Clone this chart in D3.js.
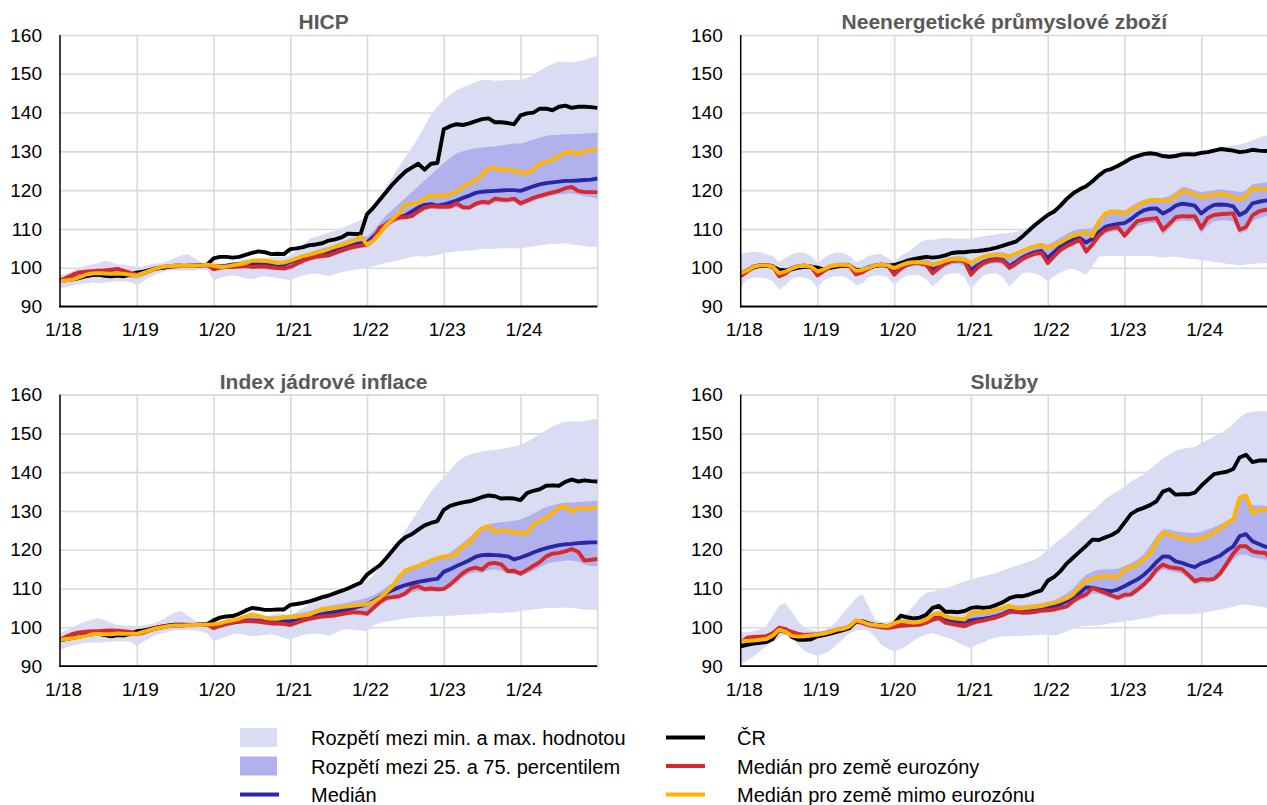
<!DOCTYPE html>
<html lang="cs">
<head>
<meta charset="utf-8">
<title>Cenové hladiny v zemích EU</title>
<script src="https://cdn.jsdelivr.net/npm/d3@7/dist/d3.min.js"></script>
<style>
  html, body { margin: 0; padding: 0; background: #fff; overflow: hidden; }
  svg { display: block; font-family: 'Liberation Sans', Arial, sans-serif; }
</style>
</head>
<body>
<svg id="chart" width="1267" height="805"></svg>
<script>
/* global d3 */

// Popisky os (měsíční data 1/18 až 1/25)
const X_TICKS = ['1/18', '1/19', '1/20', '1/21', '1/22', '1/23', '1/24']
const Y_TICKS = [90, 100, 110, 120, 130, 140, 150, 160]

// HICP
const hicpMin = [
  94.5, 95.0, 95.5, 95.8, 96.0, 96.2, 96.0, 96.2, 96.4, 96.5, 96.5, 96.3,
  95.4, 96.5, 97.5, 98.3, 98.8, 99.2, 99.3, 99.2, 99.3, 99.3, 99.5, 99.4,
  96.8, 97.3, 97.8, 98.0, 97.8, 97.3, 97.0, 97.5, 97.8, 97.6, 97.3, 97.0,
  96.8, 97.5, 98.0, 98.4, 98.6, 98.2, 97.8, 98.3, 98.8, 99.2, 99.5, 99.6,
  100.0, 100.4, 100.8, 101.3, 101.6, 102.0, 102.4, 102.8, 103.0, 102.8, 103.0, 103.3,
  103.7, 104.0, 104.2, 104.3, 104.4, 104.6, 104.8, 104.8, 104.9, 105.0, 105.0, 105.0,
  105.0, 105.3, 105.5, 105.8, 106.0, 106.2, 106.2, 106.3, 106.0, 105.8, 105.6, 105.4,
  105.4]
const hicpMax = [
  98.0, 98.5, 99.2, 100.0, 100.5, 100.8, 101.2, 101.8, 101.5, 100.8, 100.8, 100.5,
  100.2, 100.3, 100.8, 101.0, 101.2, 101.8, 102.6, 103.2, 103.5, 102.5, 101.5, 101.2,
  101.0, 101.0, 101.2, 101.5, 101.8, 102.2, 102.4, 102.5, 102.6, 102.7, 102.8, 102.9,
  103.0, 104.5, 106.0, 107.5, 108.0, 108.5, 109.0, 109.5, 110.2, 110.8, 111.5, 112.3,
  113.2, 115.5, 118.0, 121.0, 123.5, 126.0, 128.5, 131.0, 133.5, 136.5, 139.5, 141.5,
  143.2, 144.5, 145.8, 146.5, 147.1, 147.8, 148.4, 148.4, 148.2, 148.3, 148.4, 148.4,
  148.4, 149.0, 149.7, 150.8, 151.8, 152.5, 153.1, 153.1, 153.0, 153.2, 153.6, 154.2,
  154.6]
const hicpP25 = [
  96.0, 96.3, 96.8, 97.2, 97.5, 97.7, 97.6, 97.6, 97.6, 97.5, 97.5, 97.4,
  97.2, 97.8, 98.5, 99.2, 99.6, 99.8, 99.9, 99.9, 99.9, 99.9, 100.0, 100.1,
  99.5, 99.6, 99.8, 100.0, 100.0, 99.8, 99.8, 99.8, 99.7, 99.5, 99.4, 99.4,
  99.6, 100.3, 101.2, 101.8, 102.2, 102.5, 102.7, 103.2, 103.8, 104.4, 104.8, 105.0,
  105.2, 106.3, 108.5, 110.0, 111.5, 112.2, 112.5, 113.0, 114.0, 114.8, 115.2, 115.0,
  115.0, 115.2, 115.5, 115.0, 115.0, 115.8, 116.2, 116.0, 116.8, 116.8, 116.8, 117.0,
  115.8, 116.5, 117.2, 117.8, 118.2, 118.6, 118.9, 119.1, 119.2, 118.8, 118.5, 118.2,
  117.8]
const hicpP75 = [
  97.5, 98.0, 98.5, 99.0, 99.4, 99.6, 99.8, 99.8, 99.8, 99.7, 99.4, 99.0,
  98.8, 99.2, 99.7, 100.2, 100.5, 100.8, 101.0, 101.0, 101.0, 101.0, 101.1, 101.2,
  100.8, 100.9, 101.0, 101.3, 101.5, 101.8, 102.0, 102.0, 102.0, 101.9, 101.8, 101.9,
  102.3, 102.9, 103.5, 104.0, 104.5, 105.0, 105.5, 106.0, 106.6, 107.2, 107.8, 108.3,
  108.0, 109.5, 111.5, 113.5, 115.0, 116.5, 118.0, 119.5, 121.0, 122.5, 124.0, 125.5,
  127.0, 128.3, 129.5, 130.0, 130.5, 130.8, 131.0, 131.2, 131.3, 131.5, 131.8, 132.0,
  132.0, 132.5, 133.0, 133.5, 134.0, 134.2, 134.3, 134.4, 134.5, 134.5, 134.6, 134.7,
  134.8]
const hicpMed = [
  96.8, 96.9, 97.2, 97.6, 98.2, 98.4, 98.5, 98.5, 98.5, 98.4, 98.3, 98.2,
  98.3, 98.8, 99.3, 99.8, 100.0, 100.2, 100.4, 100.4, 100.5, 100.5, 100.6, 100.7,
  100.3, 100.3, 100.5, 100.8, 101.0, 101.0, 101.2, 101.0, 100.8, 100.6, 100.6, 100.8,
  101.5, 102.0, 102.6, 103.0, 103.3, 103.6, 104.0, 104.5, 105.0, 105.5, 106.0, 106.3,
  106.5, 108.0, 109.8, 111.3, 112.5, 113.0, 113.5, 114.5, 115.5, 116.2, 116.4, 116.0,
  116.3, 116.8, 117.3, 118.0, 118.6, 119.3, 119.6, 119.7, 119.8, 119.9, 120.0, 120.0,
  119.8, 120.4, 121.0, 121.5, 121.8, 122.0, 122.2, 122.4, 122.4, 122.5, 122.6, 122.7,
  123.0]
const hicpCz = [
  96.6, 96.8, 97.0, 97.3, 97.8, 98.1, 98.2, 97.9, 97.8, 98.0, 97.8, 98.3,
  98.7, 99.0, 99.4, 99.8, 100.0, 100.3, 100.5, 100.5, 100.4, 100.5, 100.6, 100.8,
  102.4, 102.8, 102.8, 102.6, 102.8, 103.3, 103.8, 104.2, 104.0, 103.5, 103.6, 103.5,
  104.8, 105.0, 105.3, 105.8, 106.0, 106.3, 107.0, 107.3, 107.8, 108.8, 108.7, 108.7,
  113.8, 115.5, 117.5, 119.5, 121.5, 123.2, 124.8, 125.8, 126.8, 125.3, 126.8, 127.0,
  135.7, 136.5, 137.0, 136.8, 137.2, 137.8, 138.3, 138.5, 137.5, 137.5, 137.3, 137.0,
  139.3, 139.8, 140.0, 141.0, 141.0, 140.6, 141.5, 141.8, 141.2, 141.5, 141.5, 141.4,
  141.2]
const hicpEa = [
  96.6, 97.4, 98.2, 98.8, 99.0, 99.1, 99.2, 99.3, 99.5, 99.7, 99.2, 98.7,
  98.2, 98.6, 99.2, 99.8, 100.2, 100.4, 100.3, 100.4, 100.5, 100.5, 100.6, 100.8,
  99.6, 100.0, 100.2, 100.2, 100.3, 100.4, 100.2, 100.3, 100.3, 100.1, 99.9, 99.8,
  100.2, 101.0, 101.8, 102.4, 102.8, 103.0, 103.2, 103.8, 104.4, 105.0, 105.4, 105.7,
  106.0, 107.2, 110.3, 111.2, 112.3, 113.0, 113.0, 113.3, 114.5, 115.5, 115.9, 115.8,
  115.7, 115.8, 116.6, 115.6, 115.5, 116.5, 117.0, 116.8, 117.8, 117.6, 117.5, 117.8,
  116.6, 117.3, 118.0, 118.5, 119.0, 119.4, 119.8, 120.5, 120.8, 119.8, 119.5, 119.5,
  119.5]
const hicpNonEa = [
  96.5, 96.7, 97.0, 97.5, 98.2, 98.5, 98.6, 98.5, 98.4, 98.5, 98.4, 98.2,
  98.0, 98.6, 99.2, 99.8, 100.2, 100.4, 100.5, 100.5, 100.5, 100.5, 100.6, 100.8,
  100.5, 100.2, 100.3, 100.6, 100.9, 101.2, 101.8, 101.8, 101.8, 101.6, 101.2, 101.3,
  101.8, 102.4, 103.0, 103.4, 103.8, 104.2, 104.8, 105.4, 105.8, 106.4, 107.0, 108.0,
  106.0, 107.0, 108.8, 111.0, 112.5, 114.0, 116.2, 116.4, 116.8, 117.8, 118.6, 118.5,
  118.6, 119.0, 119.5, 120.8, 121.8, 122.5, 124.0, 125.5, 125.8, 125.2, 125.4, 125.0,
  124.6, 124.4, 125.2, 126.8, 127.3, 127.8, 128.8, 129.7, 129.8, 129.3, 130.1, 130.2,
  130.4]

// Neenergetické průmyslové zboží
const goodsMin = [
  95.0, 97.0, 97.5, 97.5, 97.3, 96.5, 94.3, 95.5, 97.3, 97.6, 97.5, 96.8,
  94.8, 96.8, 97.6, 97.8, 97.8, 97.0, 95.5, 96.0, 97.5, 98.0, 98.0, 97.5,
  95.5, 97.0, 98.0, 98.2, 98.0, 97.0, 95.2, 96.5, 98.2, 98.6, 98.6, 97.5,
  94.5, 96.5, 98.0, 98.5, 98.6, 97.5, 95.0, 96.8, 98.5, 98.8, 98.6, 97.8,
  96.5, 97.8, 98.8, 99.5, 99.8, 99.0, 98.2, 100.5, 102.8, 103.0, 103.0, 103.0,
  103.0, 103.0, 103.0, 103.0, 103.0, 102.8, 102.6, 102.8, 102.8, 102.6, 102.4, 102.2,
  102.0, 101.8, 101.5, 101.3, 101.0, 100.8, 100.6, 100.8, 101.0, 101.1, 101.2, 101.2,
  101.2]
const goodsMax = [
  103.5, 104.0, 104.2, 104.0, 103.5, 103.0, 101.5, 102.5, 103.5, 104.0, 103.8, 103.0,
  101.2, 102.5, 103.5, 104.0, 103.8, 103.0, 101.5, 102.0, 103.0, 103.5, 103.5, 102.5,
  101.5, 103.0, 104.0, 105.0, 106.5, 107.2, 107.2, 107.5, 107.6, 107.6, 107.5, 107.5,
  107.5, 107.8, 108.2, 108.4, 108.6, 108.8, 108.9, 109.2, 109.8, 110.5, 111.3, 112.5,
  113.8, 115.0, 116.5, 118.0, 119.3, 120.5, 121.5, 123.0, 124.3, 125.5, 126.0, 126.8,
  127.5, 128.3, 128.8, 129.3, 129.5, 129.5, 129.3, 129.3, 129.5, 129.7, 129.9, 130.0,
  130.2, 130.4, 130.6, 131.0, 131.2, 131.5, 131.8, 132.2, 132.8, 133.5, 134.0, 134.4,
  134.6]
const goodsP25 = [
  97.5, 98.5, 99.6, 100.0, 100.0, 99.6, 97.3, 97.8, 99.2, 99.8, 100.0, 99.7,
  97.5, 98.6, 99.6, 100.0, 100.1, 99.8, 97.8, 98.3, 99.3, 100.0, 100.2, 100.0,
  97.5, 99.0, 100.0, 100.4, 100.4, 100.0, 97.8, 99.0, 100.2, 100.8, 101.0, 100.6,
  97.5, 99.2, 100.4, 101.0, 101.2, 100.8, 99.2, 100.2, 101.5, 102.4, 103.0, 103.0,
  100.5, 102.2, 104.0, 105.0, 105.8, 106.5, 103.5, 105.2, 107.5, 108.8, 109.3, 109.5,
  107.5, 109.0, 110.6, 111.2, 111.5, 111.5, 108.5, 110.0, 111.8, 112.2, 112.0, 112.0,
  108.9, 110.8, 112.0, 112.2, 112.2, 112.0, 108.8, 109.5, 112.0, 112.8, 113.3, 113.6,
  111.0]
const goodsP75 = [
  99.2, 100.0, 100.8, 101.2, 101.2, 101.0, 99.5, 99.8, 100.6, 101.0, 101.0, 100.8,
  99.6, 100.2, 100.9, 101.3, 101.4, 101.2, 100.0, 100.2, 100.8, 101.2, 101.4, 101.3,
  100.5, 101.0, 101.6, 102.0, 102.2, 102.2, 101.5, 101.8, 102.4, 102.8, 103.0, 102.8,
  101.8, 102.6, 103.3, 103.8, 104.0, 104.0, 103.5, 104.0, 104.8, 105.5, 106.0, 106.3,
  106.0, 106.8, 107.8, 108.8, 109.6, 110.0, 110.0, 110.2, 112.5, 114.5, 115.0, 115.0,
  114.8, 115.8, 116.8, 117.5, 117.9, 118.0, 118.0, 118.5, 119.5, 120.8, 120.6, 120.0,
  119.5, 119.8, 120.0, 120.2, 120.0, 119.8, 119.5, 120.0, 121.5, 121.8, 122.0, 122.2,
  122.0]
const goodsMed = [
  98.2, 99.3, 100.3, 100.6, 100.6, 100.3, 98.5, 98.8, 99.8, 100.4, 100.5, 100.3,
  98.5, 99.4, 100.3, 100.6, 100.7, 100.5, 98.8, 99.0, 99.9, 100.5, 100.8, 100.6,
  98.8, 100.0, 100.8, 101.2, 101.2, 100.9, 99.5, 100.2, 101.2, 101.8, 102.0, 101.8,
  99.4, 100.6, 101.5, 102.0, 102.2, 102.0, 100.4, 101.4, 102.6, 103.4, 104.0, 104.3,
  102.5, 104.0, 105.5, 106.5, 107.2, 107.6, 106.5, 107.5, 109.2, 110.5, 111.0, 111.3,
  111.5, 112.5, 113.8, 114.8, 115.2, 115.3, 114.0, 114.8, 116.0, 116.5, 116.3, 116.0,
  114.0, 115.3, 116.2, 116.3, 116.2, 115.8, 113.6, 114.5, 116.6, 117.0, 117.3, 117.5,
  116.0]
const goodsCz = [
  98.6, 99.2, 100.0, 100.5, 100.5, 100.3, 99.5, 99.3, 99.6, 100.0, 100.2, 100.3,
  100.0, 99.5, 100.0, 100.3, 100.5, 100.5, 99.5, 99.3, 100.0, 100.5, 100.7, 100.5,
  100.7, 101.2, 101.8, 102.2, 102.5, 102.8, 102.6, 102.8, 103.2, 103.8, 104.0, 104.0,
  104.2, 104.3, 104.5, 104.8, 105.2, 105.7, 106.2, 106.7, 108.0, 109.5, 111.0, 112.3,
  113.6, 114.5, 116.0, 117.8, 119.2, 120.2, 121.0, 122.3, 123.8, 125.0, 125.5, 126.3,
  127.2, 128.2, 128.8, 129.3, 129.5, 129.3, 128.8, 128.6, 128.8, 129.2, 129.3, 129.2,
  129.6, 129.8, 130.2, 130.6, 130.4, 130.2, 129.8, 130.0, 130.4, 130.2, 130.1, 130.2,
  130.3]
const goodsEa = [
  97.8, 99.0, 100.2, 100.7, 100.7, 100.4, 97.8, 98.5, 99.8, 100.4, 100.5, 100.3,
  98.0, 99.2, 100.2, 100.6, 100.7, 100.5, 98.3, 98.8, 99.8, 100.5, 100.8, 100.6,
  98.2, 99.8, 100.8, 101.2, 101.2, 100.8, 98.6, 100.0, 101.2, 101.8, 102.0, 101.6,
  98.2, 100.0, 101.2, 101.8, 102.0, 101.8, 100.0, 101.0, 102.2, 103.0, 103.6, 103.9,
  101.2, 103.0, 104.6, 105.6, 106.4, 107.2, 104.2, 106.0, 108.3, 109.7, 110.2, 110.4,
  108.3, 110.2, 112.0, 112.4, 112.6, 112.8, 109.8, 111.3, 113.0, 113.3, 113.2, 113.3,
  110.2, 112.8, 113.6, 113.8, 113.9, 114.0, 109.8, 110.5, 113.5, 114.5, 114.9, 115.2,
  112.5]
const goodsNonEa = [
  98.6, 99.3, 100.2, 100.6, 100.6, 100.3, 98.6, 99.0, 99.8, 100.4, 100.5, 100.3,
  99.0, 99.6, 100.4, 100.7, 100.8, 100.6, 99.2, 99.4, 100.0, 100.6, 100.8, 100.6,
  99.9, 100.6, 101.2, 101.4, 101.4, 101.2, 100.8, 101.2, 101.8, 102.2, 102.2, 102.0,
  101.2, 102.2, 102.9, 103.2, 103.3, 103.2, 103.0, 103.6, 104.3, 105.0, 105.6, 105.9,
  105.0, 105.8, 106.5, 107.5, 108.3, 108.8, 108.9, 108.2, 112.0, 114.0, 114.5, 114.3,
  114.0, 115.0, 115.8, 116.8, 117.4, 117.5, 117.3, 117.5, 118.5, 119.8, 119.5, 118.8,
  118.3, 118.5, 118.8, 119.0, 118.8, 118.2, 117.5, 118.5, 120.5, 120.3, 120.2, 120.5,
  120.0]

// Index jádrové inflace
const coreMin = [
  94.3, 94.8, 95.3, 95.7, 96.0, 96.1, 96.0, 96.2, 96.3, 96.5, 96.4, 96.2,
  95.2, 96.2, 97.2, 98.0, 98.5, 98.9, 99.2, 99.3, 99.3, 99.2, 99.0, 98.5,
  96.4, 97.0, 97.6, 98.2, 98.4, 98.0, 97.6, 97.8, 98.0, 98.2, 97.8, 97.3,
  96.9, 97.5, 98.1, 98.3, 98.4, 98.2, 97.8, 98.5, 99.3, 99.5, 99.4, 99.2,
  99.0, 100.5, 101.2, 101.5, 101.7, 102.0, 102.3, 102.5, 102.6, 102.7, 102.8, 102.9,
  102.9, 103.0, 103.1, 103.2, 103.3, 103.4, 103.5, 103.6, 103.7, 103.7, 103.8, 103.9,
  104.2, 104.4, 104.6, 104.8, 105.0, 105.0, 105.0, 105.1, 105.0, 104.8, 104.6, 104.5,
  104.5]
const coreMax = [
  98.5, 99.3, 100.0, 100.8, 101.5, 102.0, 102.4, 101.8, 101.2, 100.6, 100.5, 100.4,
  100.3, 100.5, 100.8, 101.2, 102.0, 103.0, 103.8, 104.2, 103.0, 101.8, 101.3, 101.2,
  101.1, 101.3, 101.5, 101.6, 101.8, 102.0, 102.2, 102.5, 102.8, 103.2, 103.6, 103.4,
  103.0, 104.0, 105.0, 106.0, 106.8, 107.5, 108.0, 108.6, 109.2, 109.8, 110.5, 111.2,
  111.8, 113.5, 115.5, 117.8, 120.0, 122.5, 125.0, 127.5, 130.0, 132.5, 135.0, 137.0,
  138.5, 140.5, 142.5, 143.8, 144.5, 145.0, 145.3, 145.6, 145.8, 146.0, 146.3, 146.6,
  147.0, 147.8, 148.8, 149.8, 150.8, 151.8, 152.5, 153.0, 153.1, 153.0, 153.2, 153.5,
  153.8]
const coreP25 = [
  96.3, 96.6, 97.0, 97.4, 97.7, 97.8, 97.8, 97.8, 97.8, 97.8, 97.7, 97.7,
  97.7, 98.1, 98.7, 99.2, 99.5, 99.8, 100.0, 100.0, 100.0, 100.0, 100.1, 100.1,
  99.4, 99.8, 100.2, 100.6, 100.9, 101.0, 101.0, 100.9, 100.7, 100.5, 100.4, 100.3,
  100.2, 100.7, 101.3, 101.7, 102.0, 102.3, 102.4, 102.6, 102.9, 103.2, 103.4, 103.3,
  103.2, 104.3, 105.6, 106.7, 107.2, 107.5, 108.0, 109.0, 109.4, 109.2, 109.3, 109.2,
  109.3, 110.4, 111.6, 113.0, 113.8, 114.2, 114.0, 114.8, 115.0, 114.6, 113.8, 113.6,
  113.4, 113.9, 114.6, 115.5, 116.3, 116.8, 117.0, 117.2, 117.2, 117.0, 116.2, 115.8,
  115.8]
const coreP75 = [
  97.5, 97.8, 98.2, 98.6, 98.9, 99.1, 99.2, 99.2, 99.3, 99.3, 99.2, 99.1,
  99.0, 99.3, 99.8, 100.2, 100.6, 100.9, 101.1, 101.2, 101.2, 101.2, 101.3, 101.3,
  101.2, 101.5, 101.9, 102.3, 102.7, 103.1, 103.4, 103.3, 103.0, 102.8, 102.9, 103.1,
  103.3, 103.5, 103.8, 104.2, 104.7, 105.2, 105.5, 105.8, 106.1, 106.4, 106.8, 107.2,
  107.6, 108.2, 109.2, 110.3, 111.5, 113.0, 114.6, 115.6, 116.4, 117.0, 117.7, 118.3,
  118.5, 119.3, 120.5, 121.8, 123.2, 124.8, 126.0, 126.6, 126.9, 127.1, 127.3, 127.5,
  127.8, 128.5, 129.3, 130.2, 131.0, 131.5, 131.9, 132.1, 132.2, 132.3, 132.4, 132.5,
  132.6]
const coreMed = [
  96.8, 97.0, 97.3, 97.6, 98.0, 98.2, 98.3, 98.3, 98.3, 98.4, 98.3, 98.3,
  98.4, 98.8, 99.3, 99.7, 100.0, 100.3, 100.5, 100.5, 100.6, 100.6, 100.7, 100.7,
  100.5, 100.6, 100.9, 101.2, 101.5, 101.8, 101.8, 101.7, 101.6, 101.5, 101.5, 101.5,
  101.6, 101.8, 102.2, 102.6, 103.0, 103.4, 103.7, 104.0, 104.3, 104.6, 105.0, 105.5,
  105.9, 106.8, 107.8, 108.8, 109.6, 110.3, 110.9, 111.3, 111.7, 112.0, 112.3, 112.5,
  114.3, 115.0, 115.8, 116.5, 117.3, 118.2, 118.6, 118.7, 118.6, 118.5, 118.3, 117.5,
  118.0, 118.6, 119.3, 119.9, 120.4, 120.8, 121.2, 121.4, 121.5, 121.7, 121.8, 121.9,
  121.9]
const coreCz = [
  96.8, 97.0, 97.3, 97.6, 98.0, 98.3, 98.3, 98.0, 97.7, 98.0, 97.9, 98.3,
  99.0, 99.2, 99.5, 99.9, 100.2, 100.5, 100.7, 100.7, 100.6, 100.6, 100.7, 100.8,
  101.8, 102.5, 102.8, 102.9, 103.5, 104.3, 105.0, 104.8, 104.5, 104.5, 104.6, 104.6,
  105.8, 106.0, 106.3, 106.7, 107.2, 107.8, 108.2, 108.8, 109.4, 110.0, 110.8, 111.5,
  113.6, 114.8, 116.0, 117.8, 119.8, 121.8, 123.2, 124.0, 125.2, 126.3, 126.9, 127.4,
  130.3, 131.3, 131.8, 132.2, 132.5, 133.0, 133.6, 134.0, 133.8, 133.2, 133.3, 133.2,
  132.8, 134.6, 135.2, 135.6, 136.5, 136.6, 136.5, 137.5, 138.1, 137.6, 137.9, 137.7,
  137.6]
const coreEa = [
  96.8, 97.6, 98.3, 98.7, 98.9, 99.0, 99.0, 99.1, 99.2, 99.1, 99.0, 98.8,
  98.3, 98.6, 99.2, 99.8, 100.2, 100.4, 100.5, 100.5, 100.6, 100.6, 100.7, 100.7,
  99.8, 100.4, 100.9, 101.3, 101.5, 101.6, 101.6, 101.5, 101.2, 101.0, 101.0, 100.9,
  100.6, 101.2, 101.8, 102.2, 102.5, 102.8, 102.9, 103.1, 103.4, 103.7, 103.9, 103.8,
  103.5, 105.0, 106.5, 107.6, 107.8, 108.0, 108.8, 110.2, 110.6, 109.8, 110.0, 109.8,
  109.9, 111.0, 112.5, 114.0, 115.0, 115.4, 114.9, 116.4, 116.6, 116.2, 114.5, 114.6,
  113.8, 114.8, 115.8, 116.8, 118.3, 119.0, 119.2, 119.6, 120.2, 119.5, 117.2, 117.4,
  117.6]
const coreNonEa = [
  96.8, 97.0, 97.2, 97.5, 97.8, 98.2, 98.3, 98.2, 98.2, 98.4, 98.3, 98.3,
  98.3, 98.8, 99.3, 99.7, 100.0, 100.3, 100.5, 100.5, 100.5, 100.6, 100.6, 100.7,
  100.8, 101.0, 101.5, 101.8, 102.2, 102.8, 103.3, 103.0, 102.4, 102.2, 102.2, 102.6,
  102.7, 102.8, 103.0, 103.3, 104.0, 104.8, 104.8, 105.0, 105.2, 105.4, 105.6, 105.8,
  105.9, 106.5, 107.6, 109.0, 110.6, 113.0, 114.7, 115.3, 115.8, 116.5, 117.2, 117.8,
  118.3, 118.3, 119.0, 120.9, 121.8, 124.0, 125.6, 126.0, 124.5, 125.0, 124.8, 124.5,
  124.3, 124.2, 126.5, 127.5, 128.2, 129.5, 130.8, 131.2, 129.9, 130.8, 130.6, 130.7,
  130.8]

// Služby
const servMin = [
  90.5, 91.5, 92.5, 93.8, 95.0, 96.2, 97.2, 98.3, 97.5, 95.3, 93.8, 93.2,
  92.6, 93.2, 94.0, 95.5, 97.0, 98.4, 99.2, 99.4, 99.0, 97.5, 95.5, 94.5,
  93.9, 94.5, 95.3, 96.5, 97.5, 98.2, 98.5, 98.0, 97.5, 96.9, 96.0, 95.2,
  94.7, 95.5, 96.2, 97.0, 97.4, 97.6, 97.7, 97.8, 97.8, 97.9, 98.0, 98.1,
  98.1, 97.9, 98.3, 99.0, 99.6, 100.2, 100.4, 100.4, 100.5, 100.8, 101.1, 101.3,
  101.5, 101.7, 102.0, 102.3, 102.6, 103.0, 103.3, 103.4, 103.4, 103.4, 103.4, 103.5,
  103.7, 104.0, 104.3, 104.6, 104.9, 105.3, 105.8, 105.9, 105.6, 105.4, 105.1, 105.0,
  105.0]
const servMax = [
  98.6, 98.8, 99.0, 99.5, 100.3, 103.0, 105.5, 106.3, 104.0, 101.5, 99.8, 99.4,
  99.0, 99.2, 100.0, 101.5, 103.7, 105.5, 107.5, 108.5, 105.5, 102.0, 101.3, 101.5,
  101.6, 102.5, 103.7, 105.5, 107.5, 108.9, 109.2, 109.7, 110.0, 110.6, 111.2, 111.8,
  112.3, 112.8, 113.2, 113.6, 114.0, 114.7, 115.3, 115.8, 116.4, 117.0, 117.5, 118.5,
  120.1, 121.5, 122.8, 124.0, 125.5, 127.0, 128.5, 130.0, 131.5, 133.0, 134.2, 135.1,
  136.4, 137.5, 138.5, 139.4, 140.8, 142.2, 143.5, 144.5, 145.5, 146.0, 146.3, 146.5,
  147.5, 148.3, 149.2, 150.0, 151.0, 152.5, 154.0, 155.3, 155.6, 155.7, 155.7, 155.8,
  155.8]
const servP25 = [
  95.6, 96.3, 96.6, 96.9, 97.1, 97.7, 98.8, 98.4, 97.6, 97.3, 97.2, 97.3,
  97.4, 97.7, 98.1, 98.6, 99.0, 99.5, 100.8, 100.5, 99.9, 99.6, 99.4, 99.2,
  99.5, 99.8, 99.9, 100.0, 100.1, 100.6, 101.3, 101.6, 100.6, 100.2, 99.9, 99.7,
  100.3, 100.9, 101.3, 101.7, 102.1, 102.6, 103.3, 103.4, 103.1, 103.2, 103.4, 103.7,
  103.8, 104.0, 104.4, 104.8, 106.0, 107.0, 107.7, 108.8, 108.6, 108.0, 107.4, 107.0,
  107.6, 107.8, 108.8, 110.2, 111.8, 113.8, 115.0, 114.6, 114.2, 113.8, 112.5, 111.0,
  111.5, 111.4, 111.8, 113.0, 115.2, 117.5, 118.7, 118.8, 118.0, 117.8, 117.5, 116.3,
  116.0]
const servP75 = [
  97.0, 97.5, 97.8, 98.0, 98.3, 99.0, 100.3, 100.0, 99.0, 98.7, 98.6, 98.7,
  98.8, 99.1, 99.5, 100.0, 100.3, 100.8, 102.3, 102.0, 101.3, 101.0, 100.9, 100.8,
  101.3, 101.9, 102.0, 102.0, 102.2, 102.7, 103.5, 103.8, 103.0, 102.7, 102.6, 102.6,
  103.5, 103.9, 104.1, 104.4, 104.8, 105.3, 105.9, 105.7, 105.6, 105.8, 106.0, 106.3,
  106.6, 107.0, 107.8, 108.8, 110.0, 112.0, 113.5, 114.3, 114.8, 115.0, 115.0, 115.1,
  115.8, 116.6, 117.5, 118.8, 121.0, 123.5, 125.3, 125.2, 124.8, 124.6, 124.4, 124.3,
  124.6, 125.2, 125.8, 126.6, 127.5, 128.5, 134.0, 134.2, 131.5, 131.5, 131.3, 131.2,
  131.0]
const servMed = [
  96.3, 96.5, 96.7, 97.0, 97.3, 98.0, 99.2, 98.8, 98.0, 97.8, 97.8, 97.9,
  98.0, 98.3, 98.7, 99.2, 99.5, 100.0, 101.5, 101.3, 100.8, 100.6, 100.4, 100.2,
  100.5, 101.0, 101.0, 100.9, 101.0, 101.4, 102.4, 102.7, 101.8, 101.5, 101.4, 101.4,
  101.8, 102.0, 102.2, 102.5, 102.9, 103.4, 104.2, 104.0, 103.9, 104.1, 104.3, 104.6,
  105.0, 105.4, 106.0, 106.8, 107.6, 108.8, 110.3, 110.2, 109.8, 109.5, 109.3, 109.8,
  110.6, 111.5, 112.3, 113.5, 115.0, 116.8, 118.3, 118.2, 117.0, 116.6, 116.0, 115.5,
  116.5, 117.0, 117.8, 118.5, 119.8, 120.8, 123.5, 124.0, 122.2, 121.5, 120.8, 120.4,
  120.0]
const servCz = [
  95.1, 95.5, 95.8, 96.0, 96.2, 97.0, 99.5, 99.5, 97.5, 96.8, 96.8, 96.9,
  97.7, 98.0, 98.4, 98.8, 99.3, 99.8, 101.5, 101.6, 101.0, 100.6, 100.5, 100.2,
  101.0, 103.0, 102.6, 102.3, 102.5, 103.2, 105.0, 105.5, 104.0, 104.0, 103.9, 104.2,
  105.0, 105.2, 105.0, 105.2, 105.8, 106.5, 107.5, 108.0, 108.0, 108.4, 109.0, 109.5,
  112.0, 113.0, 114.5, 116.5, 118.0, 119.5, 121.0, 122.6, 122.5, 123.2, 123.8, 124.8,
  127.0, 129.2, 130.2, 130.8, 131.5, 132.5, 135.0, 135.6, 134.2, 134.3, 134.3, 134.7,
  136.5, 138.0, 139.5, 139.8, 140.1, 140.8, 143.8, 144.5, 142.6, 143.0, 143.0, 143.0,
  142.8]
const servEa = [
  96.0, 97.3, 97.5, 97.6, 97.7, 98.5, 99.9, 99.5, 98.8, 98.3, 98.0, 98.1,
  98.1, 98.4, 98.8, 99.3, 99.6, 100.2, 101.6, 101.2, 100.6, 100.3, 100.0, 99.9,
  100.1, 100.4, 100.5, 100.6, 100.7, 101.2, 102.0, 102.4, 101.2, 100.9, 100.6, 100.3,
  101.0, 101.5, 101.8, 102.2, 102.6, 103.2, 104.0, 104.2, 103.8, 103.8, 104.0, 104.3,
  104.4, 104.6, 105.0, 105.4, 106.8, 107.8, 108.5, 110.2, 109.5, 108.9, 108.2, 107.6,
  108.4, 108.5, 109.7, 111.0, 112.7, 114.9, 116.2, 115.5, 115.3, 115.0, 113.5, 111.9,
  112.5, 112.3, 112.5, 114.0, 116.5, 119.0, 120.9, 120.9, 119.6, 119.3, 119.2, 117.5,
  117.0]
const servNonEa = [
  96.4, 96.5, 96.6, 96.8, 97.0, 97.8, 99.4, 98.9, 97.8, 97.6, 97.7, 97.9,
  98.1, 98.4, 98.8, 99.4, 99.6, 100.2, 101.8, 101.5, 100.8, 100.6, 100.4, 100.3,
  101.0, 101.6, 101.4, 101.2, 101.4, 102.0, 103.2, 103.7, 102.8, 102.4, 102.2, 102.0,
  103.7, 103.9, 104.0, 104.2, 104.6, 105.0, 105.6, 105.0, 104.9, 105.1, 105.3, 105.5,
  105.9, 106.3, 106.8, 107.5, 108.5, 110.5, 111.9, 112.6, 112.9, 113.2, 113.1, 113.0,
  114.9, 115.5, 116.2, 117.5, 119.0, 122.0, 124.3, 124.0, 123.3, 123.0, 122.6, 122.5,
  123.0, 123.5, 124.5, 125.5, 126.9, 127.8, 133.5, 134.0, 129.5, 130.2, 130.4, 130.4,
  130.2]

const PANELS = [
  { title: 'HICP', min: hicpMin, max: hicpMax, p25: hicpP25, p75: hicpP75, med: hicpMed, cz: hicpCz, ea: hicpEa, nonEa: hicpNonEa },
  { title: 'Neenergetické průmyslové zboží', min: goodsMin, max: goodsMax, p25: goodsP25, p75: goodsP75, med: goodsMed, cz: goodsCz, ea: goodsEa, nonEa: goodsNonEa },
  { title: 'Index jádrové inflace', min: coreMin, max: coreMax, p25: coreP25, p75: coreP75, med: coreMed, cz: coreCz, ea: coreEa, nonEa: coreNonEa },
  { title: 'Služby', min: servMin, max: servMax, p25: servP25, p75: servP75, med: servMed, cz: servCz, ea: servEa, nonEa: servNonEa }
]

// Rozložení a barvy
const PLOT_W = 537.3
const PLOT_H = 271.5
const POSITIONS = [
  { left: 60, top: 35 },
  { left: 740.7, top: 35 },
  { left: 60, top: 394.6 },
  { left: 740.7, top: 394.6 }
]
const COLORS = {
  range: '#d9dcf2',
  iqr: '#b1b1ed',
  med: '#2828a6',
  cz: '#000000',
  ea: '#d9282b',
  nonEa: '#ffb400'
}
const GRID_COLOR = '#d9d9d9'
const LINE_W = 3.9

const svg = d3.select('#chart')

function drawPanel (panel, pos) {
  const n = panel.cz.length
  const x = d3.scaleLinear().domain([0, n - 1]).range([pos.left, pos.left + PLOT_W])
  const y = d3.scaleLinear().domain([90, 160]).range([pos.top + PLOT_H, pos.top])
  const g = svg.append('g')

  // mřížka
  g.append('g')
    .attr('transform', `translate(${pos.left},0)`)
    .call(d3.axisLeft(y).tickValues(Y_TICKS.slice(1)).tickSize(-PLOT_W).tickFormat(''))
    .call(a => a.select('.domain').remove())
    .selectAll('line').attr('stroke', GRID_COLOR).attr('stroke-width', 1.6)

  g.append('g')
    .attr('transform', `translate(0,${pos.top + PLOT_H})`)
    .call(d3.axisBottom(x).tickValues(d3.range(12, n, 12)).tickSize(-PLOT_H).tickFormat(''))
    .call(a => a.select('.domain').remove())
    .selectAll('line').attr('stroke', GRID_COLOR).attr('stroke-width', 1.6)

  // pásma
  const band = d3.area()
    .x((d, i) => x(i))
    .y0(d => y(d[0]))
    .y1(d => y(d[1]))

  g.append('path').datum(d3.zip(panel.min, panel.max))
    .attr('d', band).attr('fill', COLORS.range)
  g.append('path').datum(d3.zip(panel.p25, panel.p75))
    .attr('d', band).attr('fill', COLORS.iqr)

  // linie
  const line = d3.line().x((d, i) => x(i)).y(d => y(d))
  const series = [['med', panel.med], ['cz', panel.cz], ['ea', panel.ea], ['nonEa', panel.nonEa]]
  series.forEach(([key, values]) => {
    g.append('path').datum(values)
      .attr('d', line)
      .attr('fill', 'none')
      .attr('stroke', COLORS[key])
      .attr('stroke-width', LINE_W)
      .attr('stroke-linejoin', 'round')
  })

  // osy
  g.append('line')
    .attr('x1', pos.left).attr('x2', pos.left)
    .attr('y1', pos.top).attr('y2', pos.top + PLOT_H + 1)
    .attr('stroke', '#000').attr('stroke-width', 1.5)
  g.append('line')
    .attr('x1', pos.left - 0.75).attr('x2', pos.left + PLOT_W)
    .attr('y1', pos.top + PLOT_H).attr('y2', pos.top + PLOT_H)
    .attr('stroke', '#000').attr('stroke-width', 1.8)

  const yAxis = g.append('g')
    .attr('transform', `translate(${pos.left},0)`)
    .call(d3.axisLeft(y).tickValues(Y_TICKS).tickSize(0).tickPadding(18))
  yAxis.select('.domain').remove()
  yAxis.selectAll('text')
    .attr('font-size', '19px').attr('font-family', 'Liberation Sans, Arial, sans-serif').attr('fill', '#000')

  const xAxis = g.append('g')
    .attr('transform', `translate(0,${pos.top + PLOT_H})`)
    .call(d3.axisBottom(x).tickValues(d3.range(0, n - 1, 12)).tickFormat((d, i) => X_TICKS[i]).tickSize(0).tickPadding(16))
  xAxis.select('.domain').remove()
  xAxis.selectAll('text')
    .attr('dx', 3)
    .attr('font-size', '19px').attr('font-family', 'Liberation Sans, Arial, sans-serif').attr('fill', '#000')

  // nadpis
  g.append('text')
    .attr('x', pos.left + PLOT_W / 2 - 5)
    .attr('y', pos.top - 6)
    .attr('text-anchor', 'middle')
    .attr('font-size', '21px')
    .attr('font-weight', 'bold')
    .attr('fill', '#595959')
    .text(panel.title)
}

PANELS.forEach((p, i) => drawPanel(p, POSITIONS[i]))

// Legenda
const LEGEND = [
  { label: 'Rozpětí mezi min. a max. hodnotou', type: 'box', key: 'range' },
  { label: 'Rozpětí mezi 25. a 75. percentilem', type: 'box', key: 'iqr' },
  { label: 'Medián', type: 'line', key: 'med' },
  { label: 'ČR', type: 'line', key: 'cz' },
  { label: 'Medián pro země eurozóny', type: 'line', key: 'ea' },
  { label: 'Medián pro země mimo eurozónu', type: 'line', key: 'nonEa' }
]

const legend = svg.append('g')
LEGEND.forEach((d, i) => {
  const col = Math.floor(i / 3)
  const row = i % 3
  const sx = col === 0 ? 240 : 666
  const tx = col === 0 ? 311 : 737
  const cy = 737.5 + row * 28.5
  if (d.type === 'box') {
    legend.append('rect')
      .attr('x', sx).attr('y', cy - 9.5)
      .attr('width', 37).attr('height', 19)
      .attr('fill', COLORS[d.key])
  } else {
    legend.append('line')
      .attr('x1', sx).attr('x2', sx + 39)
      .attr('y1', cy).attr('y2', cy)
      .attr('stroke', COLORS[d.key]).attr('stroke-width', 4)
  }
  legend.append('text')
    .attr('x', tx).attr('y', cy + 7.5)
    .attr('font-size', '20px')
    .attr('fill', '#000')
    .text(d.label)
})
</script>
</body>
</html>
